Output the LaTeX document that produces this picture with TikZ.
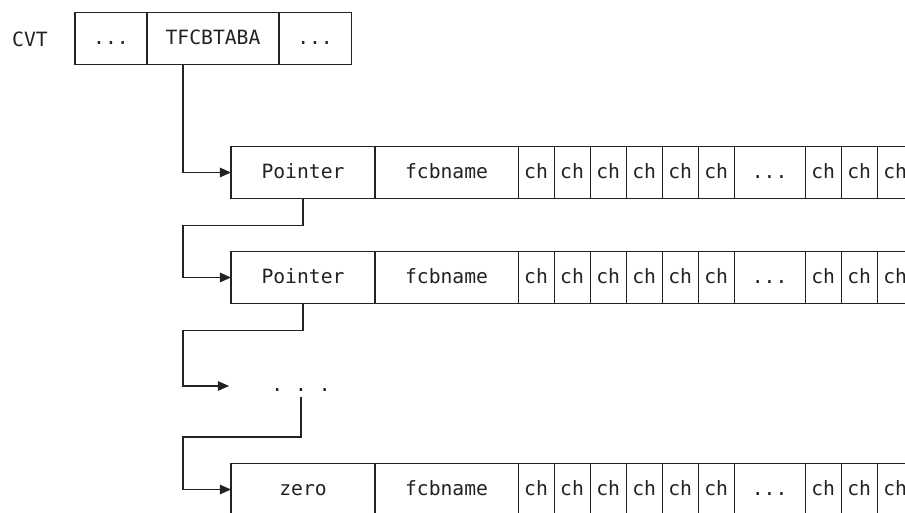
\documentclass[tikz,border=0pt]{standalone}
\usepackage{fontspec}
\setmonofont{DejaVu Sans Mono}
\usepackage{tikz}
\usetikzlibrary{arrows.meta,positioning}
\definecolor{inkgray}{RGB}{34, 34, 34}

\tikzset{
    cell/.style={draw=inkgray, line width=0.8pt, minimum height=1.3cm, inner sep=0pt, outer sep=0pt, text height=0.36cm, text depth=0.08cm, text=inkgray, font=\ttfamily\fontsize{14}{16}\selectfont},
    chcell/.style={cell, minimum width=0.9cm},
    link/.style={draw=inkgray, line width=0.8pt, -{Triangle[length=0.28cm, width=0.24cm]}}
}

\begin{document}
\begin{tikzpicture}[x=0.025cm, y=-0.025cm]
    \clip (0,0) rectangle (905,512);

    % CVT with its pointer field
    \node[cell, draw=none] (cvt) at (30,41) {CVT};
    \node[cell, minimum width=1.8cm, anchor=west] (cvtl) at (75,38.5) {...};
    \node[cell, minimum width=3.3cm, right=0pt of cvtl] (tfcb) {TFCBTABA};
    \node[cell, minimum width=1.8cm, right=0pt of tfcb] (cvtr) {...};

    % spine of the chain
    \coordinate (spine) at (183,0);

    % FCB table entries
    \foreach \r/\y/\first in {a/172.5/Pointer, b/277.5/Pointer, c/489.5/zero} {
        \node[cell, minimum width=3.6cm, anchor=west] (\r0) at (231,\y) {\first};
        \node[cell, minimum width=3.575cm, right=0pt of \r0] (\r1) {fcbname};
        \foreach \k in {2,...,7} {
            \pgfmathtruncatemacro\prev{\k-1}
            \node[chcell, right=0pt of \r\prev] (\r\k) {ch};
        }
        \node[cell, minimum width=1.775cm, right=0pt of \r7] (\r8) {...};
        \node[chcell, right=0pt of \r8] (\r9) {ch};
        \node[chcell, right=0pt of \r9] (\r10) {ch};
        \node[chcell, right=0pt of \r10] (\r11) {ch};
    }

    % omitted entries
    \node[cell, draw=none, minimum width=3.6cm, minimum height=0.55cm, anchor=west] (more) at (229,386) {.~.~.};

    % pointers
    \draw[link] ([xshift=-0.75cm]tfcb.south) |- (a0.west);
    \draw[link] (a0.south) -- ++(0,27) -| (spine |- b0.west) -- (b0.west);
    \draw[link] (b0.south) -- ++(0,27) -| (spine |- more.west) -- (more.west);
    \draw[link] (more.south) -- ++(0,40) -| (spine |- c0.west) -- (c0.west);
\end{tikzpicture}
\end{document}
